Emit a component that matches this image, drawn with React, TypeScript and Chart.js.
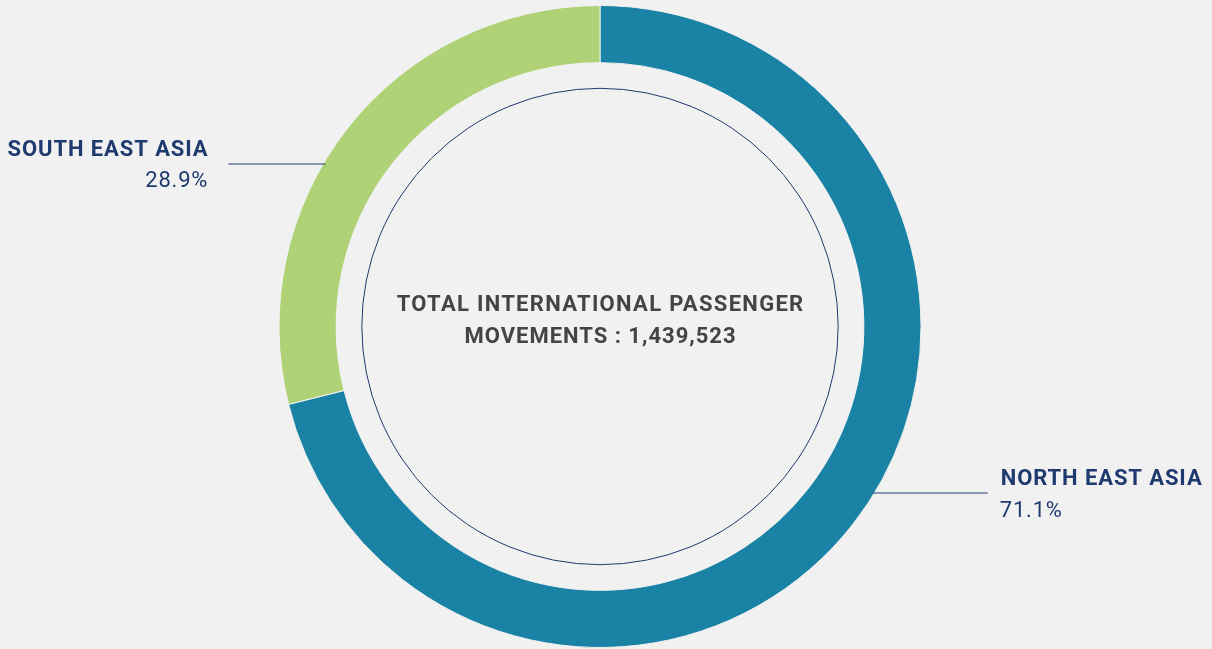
import React, { useEffect, useRef } from "react";
import { Chart, registerables } from "chart.js";

Chart.register(...registerables);

const regions = ["NORTH EAST ASIA", "SOUTH EAST ASIA"];
const shares = [71.1, 28.9];
const shareLabels = ["71.1%", "28.9%"];
const colors = ["#1a82a4", "#aed275"];
const centerLines = ["TOTAL INTERNATIONAL PASSENGER", "MOVEMENTS : 1,439,523"];

const NAVY = "#1f3a6e";
const FONT = "Roboto, 'DejaVu Sans', sans-serif";

const overlayPlugin = {
  id: "overlay",
  afterDatasetsDraw(chart: any) {
    const ctx = chart.ctx;
    const meta = chart.getDatasetMeta(0);
    const arc0 = meta.data[0];
    if (!arc0) return;
    const cx = arc0.x;
    const cy = arc0.y;
    const outer = arc0.outerRadius;
    ctx.save();
    // inner thin circle
    ctx.beginPath();
    ctx.arc(cx, cy, outer * 0.742, 0, Math.PI * 2);
    ctx.strokeStyle = NAVY;
    ctx.lineWidth = 1;
    ctx.stroke();

    // center text
    ctx.fillStyle = "#444444";
    ctx.font = `bold 22px ${FONT}`;
    (ctx as any).letterSpacing = "1.3px";
    ctx.textAlign = "center";
    ctx.textBaseline = "middle";
    ctx.fillText(centerLines[0], cx + 0.6, cy - 21);
    (ctx as any).letterSpacing = "1.0px";
    ctx.fillText(centerLines[1], cx + 0.5, cy + 10.5);

    // leader lines and labels
    const ledgers = [
      { dy: 166, dir: 1, idx: 0 },
      { dy: -163, dir: -1, idx: 1 },
    ];
    ledgers.forEach((l) => {
      const y = cy + l.dy;
      const edgeX = cx + l.dir * Math.sqrt(outer * outer - l.dy * l.dy);
      const endX = edgeX + l.dir * (l.dir > 0 ? 113 : 95);
      ctx.beginPath();
      ctx.moveTo(edgeX - l.dir * 2, y + 0.5);
      ctx.lineTo(endX, y + 0.5);
      ctx.strokeStyle = NAVY;
      ctx.lineWidth = 1;
      ctx.stroke();
      ctx.fillStyle = NAVY;
      ctx.textBaseline = "middle";
      if (l.dir > 0) {
        ctx.textAlign = "left";
        const x = endX + 13;
        ctx.font = `bold 22px ${FONT}`;
        (ctx as any).letterSpacing = "0.9px";
        ctx.fillText(regions[l.idx], x, y - 13.5);
        ctx.font = `22px ${FONT}`;
        (ctx as any).letterSpacing = "0.8px";
        ctx.fillText(shareLabels[l.idx], x - 1, y + 18.5);
      } else {
        ctx.textAlign = "right";
        const x = endX - 21;
        ctx.font = `bold 22px ${FONT}`;
        (ctx as any).letterSpacing = "0.9px";
        ctx.fillText(regions[l.idx], x + 1, y - 13.5);
        ctx.font = `22px ${FONT}`;
        (ctx as any).letterSpacing = "0.8px";
        ctx.fillText(shareLabels[l.idx], x + 0.8, y + 18);
      }
    });
    ctx.restore();
  },
};

export default function App() {
  const ref = useRef<HTMLCanvasElement | null>(null);
  useEffect(() => {
    if (!ref.current) return;
    const chart = new Chart(ref.current, {
      type: "doughnut",
      data: {
        labels: regions,
        datasets: [
          {
            data: shares,
            backgroundColor: colors,
            borderColor: "#f1f1f1",
            borderWidth: 1,
          },
        ],
      },
      options: {
        animation: false,
        responsive: false,
        cutout: "82.2%",
        layout: { padding: { top: 5, bottom: 1, left: 0, right: 12 } },
        plugins: {
          legend: { display: false },
          tooltip: { enabled: false },
        },
      },
      plugins: [overlayPlugin],
    });
    return () => chart.destroy();
  }, []);
  return (
    <div
      style={{
        position: "fixed",
        left: 0,
        top: 0,
        width: 1212,
        height: 649,
        background: "#f1f1f1",
      }}
    >
      <canvas ref={ref} width={1212} height={649} style={{ display: "block" }} />
    </div>
  );
}
